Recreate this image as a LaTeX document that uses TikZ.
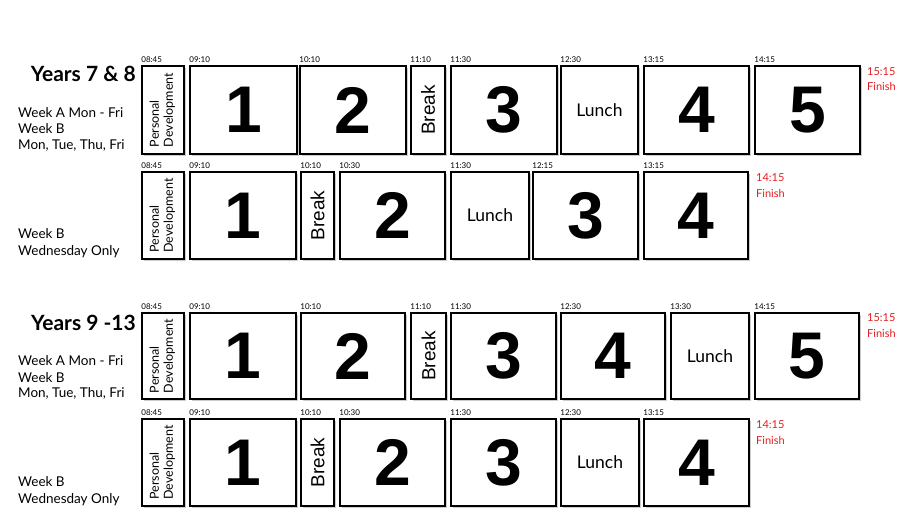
\documentclass[tikz,border=0pt]{standalone}
\usepackage{fontspec}
\setmainfont{Lato}
\newfontfamily\digitfont{Liberation Sans}
\usetikzlibrary{shadows}
\definecolor{finred}{RGB}{225,30,35}
\tikzset{
  slot/.style={draw=black, line width=1.6pt, fill=white, inner sep=0pt,
    drop shadow={shadow xshift=2pt, shadow yshift=-2pt, opacity=0.4}},
  num/.style={font=\digitfont\bfseries\fontsize{66}{66}\selectfont},
  brk/.style={font=\digitfont\fontsize{19}{19}\selectfont},
  lunch/.style={font=\fontsize{17.5}{17.5}\selectfont},
  pdev/.style={font=\fontsize{12.5}{14}\selectfont},
  tlabel/.style={font=\fontsize{8}{8}\selectfont, anchor=base west, inner sep=0pt},
  yearlbl/.style={font=\bfseries\fontsize{21}{21}\selectfont, anchor=east, inner sep=0pt},
  weeklbl/.style={font=\fontsize{13.5}{13.5}\selectfont, anchor=base west, inner sep=0pt},
  finlbl/.style={font=\fontsize{11}{11}\selectfont, text=finred, anchor=west, inner sep=0pt}
}
\newcommand\tslot[7]{%
  \node[slot,#6,minimum width={#3-#2},minimum height={#5-#4}] (#1) at ({(#2+#3)/2},{(#4+#5)/2}) {#7};}
\newcommand\tlab[2]{\node[tlabel] (t#1) at ([yshift=3pt]#1.north west) {#2};}
\newcommand\PD{\rotatebox{90}{\begin{tabular}{@{}l@{}}Personal\\Development\end{tabular}}}
\newcommand\BRK{\rotatebox{90}{Break}}
\begin{document}
\begin{tikzpicture}[x=1pt,y=-1pt]
\useasboundingbox (0,0) rectangle (900,529);
% ---------- Row 1 ----------
\tslot{aP}{142}{184}{66}{154}{pdev}{\PD}
\tslot{aA}{190}{297}{66}{154}{num}{1}
\tslot{aB}{300}{406}{66}{154}{num}{2}
\tslot{aK}{411}{445}{66}{154}{brk}{\BRK}
\tslot{aC}{451}{557}{66}{154}{num}{3}
\tslot{aL}{561}{638}{66}{154}{lunch}{Lunch}
\tslot{aD}{644}{749}{66}{154}{num}{4}
\tslot{aE}{755}{860}{66}{154}{num}{5}
\tlab{aP}{08:45}\tlab{aA}{09:10}\tlab{aB}{10:10}\tlab{aK}{11:10}
\tlab{aC}{11:30}\tlab{aL}{12:30}\tlab{aD}{13:15}\tlab{aE}{14:15}
\node[finlbl] (af1) at (867,72) {15:15};
\node[finlbl] (af2) at (867,86) {Finish};
\node[yearlbl] (ay) at (136,74) {Years 7 \& 8};
\node[weeklbl] (aw1) at (18,118) {Week A Mon - Fri};
\node[weeklbl] (aw2) at (18,134) {Week B};
\node[weeklbl] (aw3) at (18,150) {Mon, Tue, Thu, Fri};
% ---------- Row 2 ----------
\tslot{bP}{142}{184}{172}{259}{pdev}{\PD}
\tslot{bA}{190}{296}{172}{259}{num}{1}
\tslot{bK}{301}{334}{172}{259}{brk}{\BRK}
\tslot{bB}{340}{445}{172}{259}{num}{2}
\tslot{bL}{451}{529}{172}{259}{lunch}{Lunch}
\tslot{bC}{533}{638}{172}{259}{num}{3}
\tslot{bD}{644}{748}{172}{259}{num}{4}
\tlab{bP}{08:45}\tlab{bA}{09:10}\tlab{bK}{10:10}\tlab{bB}{10:30}
\tlab{bL}{11:30}\tlab{bC}{12:15}\tlab{bD}{13:15}
\node[finlbl] (bf1) at (756,178) {14:15};
\node[finlbl] (bf2) at (756,193) {Finish};
\node[weeklbl] (bw1) at (18,239) {Week B};
\node[weeklbl] (bw2) at (18,256) {Wednesday Only};
% ---------- Row 3 ----------
\tslot{cP}{142}{184}{313}{399}{pdev}{\PD}
\tslot{cA}{190}{296}{313}{399}{num}{1}
\tslot{cB}{301}{405}{313}{399}{num}{2}
\tslot{cK}{411}{446}{313}{399}{brk}{\BRK}
\tslot{cC}{451}{556}{313}{399}{num}{3}
\tslot{cD}{561}{665}{313}{399}{num}{4}
\tslot{cL}{671}{749}{313}{399}{lunch}{Lunch}
\tslot{cE}{755}{859}{313}{399}{num}{5}
\tlab{cP}{08:45}\tlab{cA}{09:10}\tlab{cB}{10:10}\tlab{cK}{11:10}
\tlab{cC}{11:30}\tlab{cD}{12:30}\tlab{cL}{13:30}\tlab{cE}{14:15}
\node[finlbl] (cf1) at (867,318) {15:15};
\node[finlbl] (cf2) at (867,333) {Finish};
\node[yearlbl] (cy) at (136,323) {Years 9 -13};
\node[weeklbl] (cw1) at (18,366) {Week A Mon - Fri};
\node[weeklbl] (cw2) at (18,382) {Week B};
\node[weeklbl] (cw3) at (18,398) {Mon, Tue, Thu, Fri};
% ---------- Row 4 ----------
\tslot{dP}{142}{184}{419}{506}{pdev}{\PD}
\tslot{dA}{190}{296}{419}{506}{num}{1}
\tslot{dK}{301}{334}{419}{506}{brk}{\BRK}
\tslot{dB}{340}{445}{419}{506}{num}{2}
\tslot{dC}{451}{556}{419}{506}{num}{3}
\tslot{dL}{561}{639}{419}{506}{lunch}{Lunch}
\tslot{dD}{644}{749}{419}{506}{num}{4}
\tlab{dP}{08:45}\tlab{dA}{09:10}\tlab{dK}{10:10}\tlab{dB}{10:30}
\tlab{dC}{11:30}\tlab{dL}{12:30}\tlab{dD}{13:15}
\node[finlbl] (df1) at (756,425) {14:15};
\node[finlbl] (df2) at (756,440) {Finish};
\node[weeklbl] (dw1) at (18,486) {Week B};
\node[weeklbl] (dw2) at (18,503) {Wednesday Only};
\end{tikzpicture}
\end{document}
